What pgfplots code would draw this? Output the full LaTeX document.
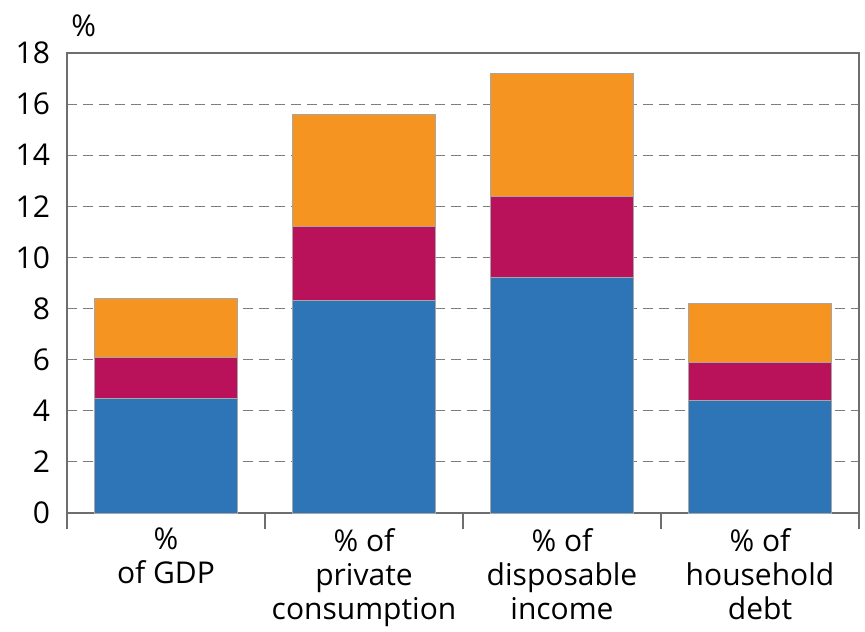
\documentclass[border=0pt]{standalone}
\usepackage{pgfplots}
\pgfplotsset{compat=1.18}
\usepackage{fontspec}
\setmainfont{Open Sans}

\definecolor{barblue}{RGB}{46,117,184}
\definecolor{barcrimson}{RGB}{185,18,91}
\definecolor{barorange}{RGB}{245,148,32}
\definecolor{framegray}{RGB}{110,110,110}
\definecolor{gridgray}{RGB}{125,125,125}

\begin{document}
\begin{tikzpicture}
\path[use as bounding box] (-33.5pt,-59pt) rectangle (399pt,256.5pt);
\begin{axis}[
  scale only axis,
  width=396pt, height=230pt,
  xmin=-0.5, xmax=3.5,
  ymin=0, ymax=18,
  ybar stacked,
  bar width=0.72,
  ytick={0,2,...,18},
  xtick={-0.5,0.5,1.5,2.5,3.5},
  xticklabels={},
  xtick pos=bottom,
  ytick pos=left,
  extra x ticks={0,1,2,3},
  extra x tick labels={{\%\\of GDP},{\% of\\private\\consumption},{\% of\\disposable\\income},{\% of\\household\\debt}},
  extra x tick style={major tick length=0pt, grid=none,
    xticklabel style={align=center, anchor=north, yshift=-4pt,
      font=\fontsize{15}{17}\selectfont}},
  ymajorgrids,
  grid style={gridgray, line width=0.6pt, dash pattern=on 5pt off 3pt},
  axis line style={framegray, line width=0.7pt},
  tick align=outside,
  x tick style={framegray, line width=0.7pt},
  major tick length=8pt,
  y tick style={draw=none},
  yticklabel style={xshift=3pt},
  ticklabel style={font=\fontsize{15}{17}\selectfont},
  /pgf/number format/assume math mode=true,
  clip=false,
]
  \addplot[fill=barblue, draw=gray!70, line width=0.5pt] coordinates {(0,4.5) (1,8.3) (2,9.2) (3,4.4)};
  \addplot[fill=barcrimson, draw=gray!70, line width=0.5pt] coordinates {(0,1.6) (1,2.9) (2,3.2) (3,1.5)};
  \addplot[fill=barorange, draw=gray!70, line width=0.5pt] coordinates {(0,2.3) (1,4.4) (2,4.8) (3,2.3)};
  \node[anchor=south west, inner sep=0pt, font=\fontsize{15}{17}\selectfont]
    at (rel axis cs:0,1) [xshift=2pt, yshift=8pt] {\%};
\end{axis}
\end{tikzpicture}
\end{document}
